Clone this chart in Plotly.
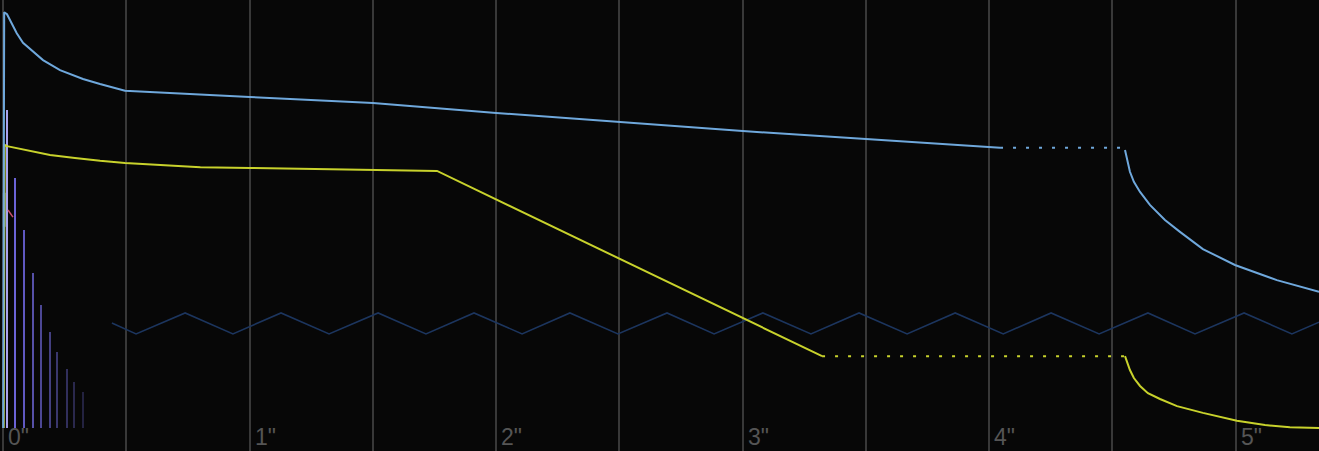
import plotly.graph_objects as go

# ---- data (time in seconds, level 0..1) ----
tick_vals = [0, 1, 2, 3, 4, 5]
tick_text = ['0"', '1"', '2"', '3"', '4"', '5"']
grid_vals = [0, 0.5, 1, 1.5, 2, 2.5, 3, 3.5, 4, 4.5, 5]

# amp envelope (blue): attack / decay, sustain, release
blue_t = [0.0, 0.004, 0.0154, 0.0276, 0.055, 0.0803, 0.122, 0.1615, 0.2304, 0.3237, 0.3927, 0.494,
          1.0, 1.5, 2.0, 2.5, 3.0, 3.5, 4.044]
blue_v = [0.0, 0.99, 0.985, 0.971, 0.940, 0.917, 0.895, 0.876, 0.852, 0.831, 0.819, 0.803,
          0.788, 0.774, 0.750, 0.729, 0.707, 0.688, 0.667]
blue_sus_t = [4.044, 4.551]
blue_sus_v = [0.667, 0.667]
blue_rel_t = [4.551, 4.559, 4.571, 4.587, 4.612, 4.652, 4.713, 4.774, 4.867, 4.997, 5.167, 5.338]
blue_rel_v = [0.662, 0.638, 0.610, 0.586, 0.562, 0.531, 0.495, 0.467, 0.426, 0.388, 0.352, 0.324]

# filter envelope (yellow)
yel_t = [0.002, 0.006, 0.0154, 0.088, 0.19, 0.291, 0.393, 0.494, 0.80, 1.001, 1.760, 3.322]
yel_v = [0.0, 0.674, 0.671, 0.662, 0.650, 0.643, 0.636, 0.631, 0.621, 0.619, 0.612, 0.171]
yel_sus_t = [3.322, 4.551]
yel_sus_v = [0.171, 0.171]
yel_rel_t = [4.551, 4.559, 4.571, 4.587, 4.612, 4.644, 4.693, 4.762, 4.867, 5.005, 5.119, 5.220, 5.338]
yel_rel_v = [0.171, 0.157, 0.138, 0.119, 0.100, 0.083, 0.069, 0.052, 0.036, 0.017, 0.007, 0.002, 0.0]

# LFO (dark blue zigzag)
lfo_t = [0.441, 0.539, 0.738, 0.932, 1.127, 1.322, 1.521, 1.715, 1.910, 2.105, 2.299,
         2.494, 2.693, 2.884, 3.082, 3.277, 3.472, 3.667, 3.862, 4.057, 4.251, 4.446,
         4.644, 4.835, 5.034, 5.228, 5.338]
lfo_v = [0.250, 0.224, 0.274, 0.224, 0.274, 0.224, 0.274, 0.224, 0.274, 0.224, 0.274,
         0.224, 0.274, 0.224, 0.274, 0.224, 0.274, 0.224, 0.274, 0.224, 0.274, 0.224,
         0.274, 0.224, 0.274, 0.224, 0.252]

# echo taps (violet bars)
tap_t = [0.0154, 0.0479, 0.0844, 0.1209, 0.1533, 0.1899, 0.2183, 0.2588, 0.2872, 0.3237]
tap_v = [0.757, 0.595, 0.471, 0.369, 0.293, 0.229, 0.181, 0.140, 0.110, 0.086]
tap_colors = ['#a9a4ee', '#6b63d6', '#5f58c0', '#5650a8', '#4c4794', '#433f80',
              '#3a376d', '#312f5c', '#2a284d', '#232240']

# small pitch segment (pink) and cyan marker
pink_t = [0.0195, 0.0397]
pink_v = [0.519, 0.502]
cyan_t = [0.004, 0.004]
cyan_v = [0.479, 0.560]

BLUE = '#6fa8dc'
YEL = '#c8d22c'
LFO = '#1c355e'

fig = go.Figure()

fig.add_trace(go.Scatter(x=lfo_t, y=lfo_v, mode='lines',
                         line=dict(color=LFO, width=1.6), hoverinfo='skip'))
fig.add_trace(go.Bar(x=tap_t, y=tap_v, width=0.011, marker=dict(color=tap_colors, line=dict(width=0)),
                     hoverinfo='skip'))
fig.add_trace(go.Scatter(x=cyan_t, y=cyan_v, mode='lines',
                         line=dict(color='#a9dcf0', width=2.5), hoverinfo='skip'))
fig.add_trace(go.Scatter(x=pink_t, y=pink_v, mode='lines',
                         line=dict(color='#c8506e', width=1.5), hoverinfo='skip'))
fig.add_trace(go.Scatter(x=yel_t, y=yel_v, mode='lines',
                         line=dict(color=YEL, width=2), hoverinfo='skip'))
fig.add_trace(go.Scatter(x=yel_sus_t, y=yel_sus_v, mode='lines',
                         line=dict(color=YEL, width=2, dash='3px,10px'), hoverinfo='skip'))
fig.add_trace(go.Scatter(x=yel_rel_t, y=yel_rel_v, mode='lines',
                         line=dict(color=YEL, width=2), hoverinfo='skip'))
fig.add_trace(go.Scatter(x=blue_t, y=blue_v, mode='lines',
                         line=dict(color=BLUE, width=2), hoverinfo='skip'))
fig.add_trace(go.Scatter(x=blue_sus_t, y=blue_sus_v, mode='lines',
                         line=dict(color=BLUE, width=2, dash='3px,10px'), hoverinfo='skip'))
fig.add_trace(go.Scatter(x=blue_rel_t, y=blue_rel_v, mode='lines',
                         line=dict(color=BLUE, width=2), hoverinfo='skip'))

annotations = [
    dict(x=v, y=0, xref='x', yref='paper', text=t, showarrow=False,
         xanchor='left', yanchor='bottom', xshift=3, yshift=-1,
         font=dict(family='Liberation Sans Narrow, Liberation Sans, Arial, sans-serif',
                   size=23, color='#555555'))
    for v, t in zip(tick_vals, tick_text)
]

fig.update_layout(
    width=1319, height=451,
    margin=dict(l=0, r=0, t=0, b=0),
    paper_bgcolor='#070707', plot_bgcolor='#070707',
    showlegend=False, hovermode=False, bargap=0,
    annotations=annotations,
    xaxis=dict(range=[-0.013, 5.338], tickvals=grid_vals, showticklabels=False,
               showgrid=True, gridcolor='#383838', gridwidth=1.5,
               zeroline=False, showline=False, ticks='', fixedrange=True),
    yaxis=dict(range=[-0.0548, 1.019], showgrid=False, zeroline=False, showticklabels=False,
               showline=False, ticks='', fixedrange=True),
)

fig.write_html('out.html', config={'displayModeBar': False},
               post_script="document.body.style.margin='0';document.body.style.background='#070707';")
